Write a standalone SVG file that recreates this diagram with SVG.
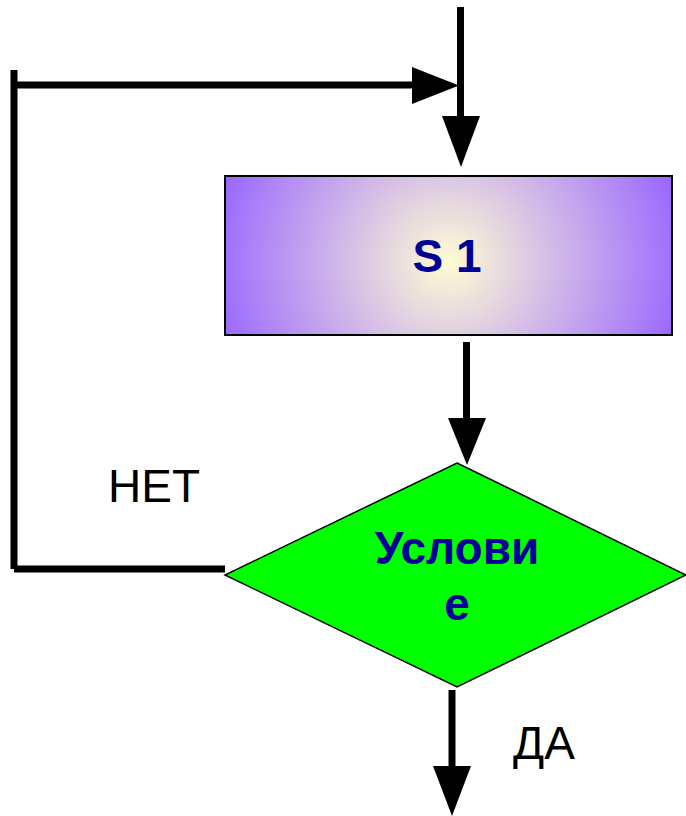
<svg xmlns="http://www.w3.org/2000/svg" width="686" height="816" viewBox="0 0 686 816">
<style>
.ln{stroke:#000;stroke-width:7;fill:none;stroke-linecap:butt}
.hd{fill:#000;stroke:none}
.lbl{font-family:"Liberation Sans",Arial,sans-serif;font-size:46px;fill:#000}
.nt{font-family:"Liberation Sans",Arial,sans-serif;font-size:46px;font-weight:bold;fill:#000099;text-anchor:middle}
</style>
<defs>
<radialGradient id="g1" gradientUnits="userSpaceOnUse" cx="448" cy="262" r="240">
<stop offset="0" stop-color="#FFFCD4"/>
<stop offset="1" stop-color="#9966FF"/>
</radialGradient>
</defs>
<rect width="686" height="816" fill="#fff"/>
<g id="connectors">
<line class="ln" x1="460.5" y1="7" x2="460.5" y2="118"/>
<polygon class="hd" points="442,116 480,116 461,167"/>
<line class="ln" x1="14" y1="70" x2="14" y2="569"/>
<line class="ln" x1="14" y1="85" x2="414" y2="85"/>
<polygon class="hd" points="412,67 412,104 459,85.5"/>
<line class="ln" x1="14" y1="569" x2="225" y2="569"/>
<line class="ln" x1="466.5" y1="342" x2="466.5" y2="420"/>
<polygon class="hd" points="448,418 486,418 467,465"/>
<line class="ln" x1="452" y1="690" x2="452" y2="768"/>
<polygon class="hd" points="433,766 471,766 452,816"/>
<text class="lbl" x="108" y="502">НЕТ</text>
<text class="lbl" x="513" y="759">ДА</text>
</g>
<g id="s1">
<rect x="225" y="176" width="447" height="159" fill="url(#g1)" stroke="#000" stroke-width="2"/>
<text class="nt" x="447" y="272">S 1</text>
</g>
<g id="cond">
<polygon points="457,463 686,575 457,687 225,575" fill="#00FF00" stroke="#000" stroke-width="1.5"/>
<text class="nt" x="457" y="564">Услови</text>
<text class="nt" x="457" y="620">е</text>
</g>
</svg>
